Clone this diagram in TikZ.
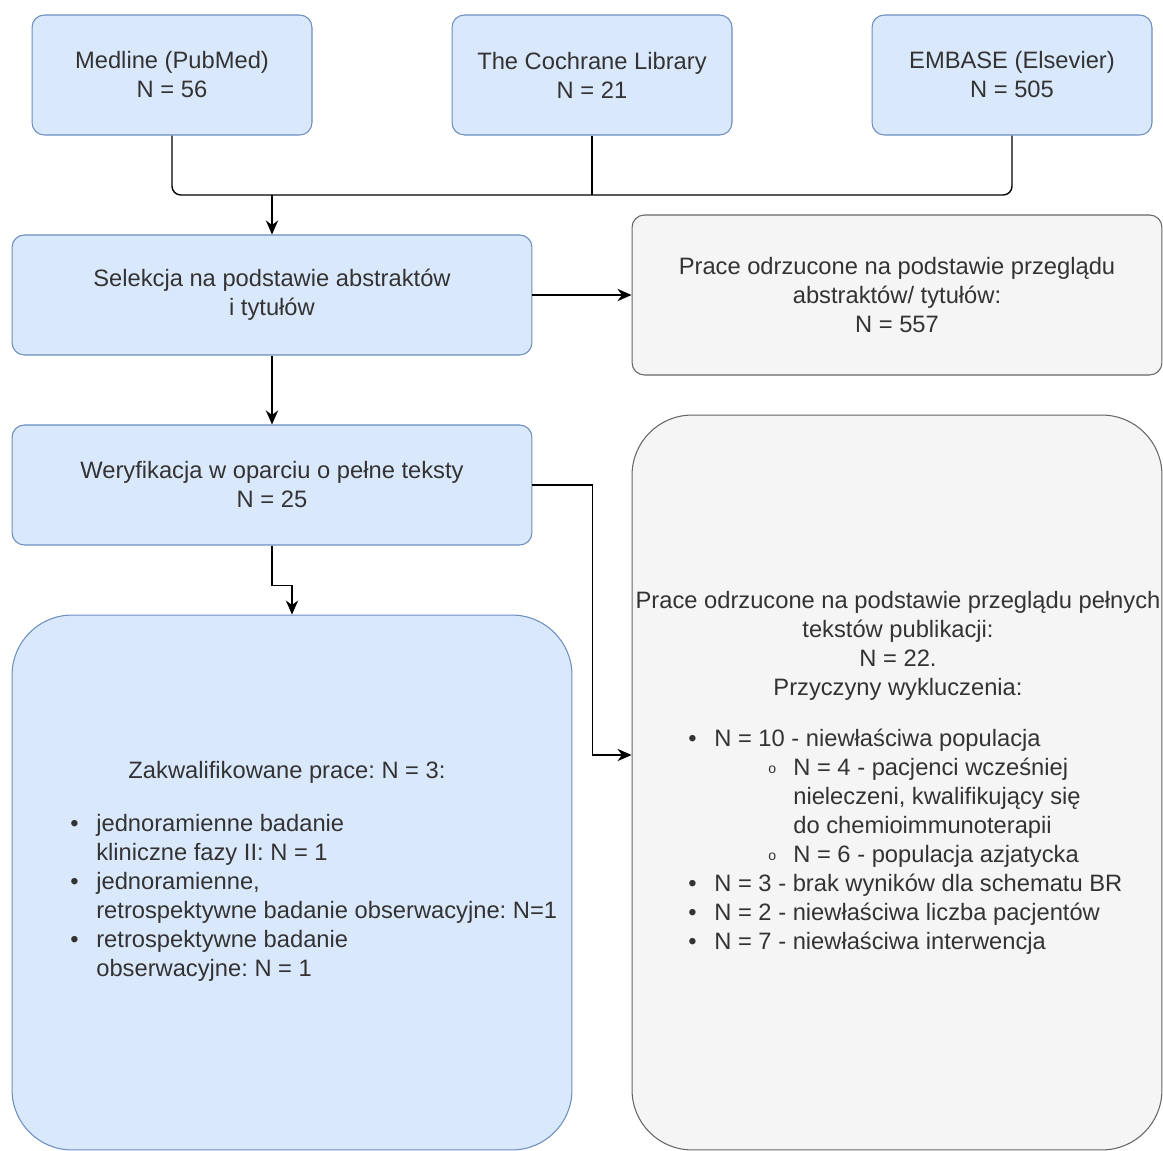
\documentclass[tikz,border=0pt]{standalone}
\usepackage{fontspec}
\setmainfont{Liberation Sans}
\usepackage{xcolor}
\usetikzlibrary{arrows.meta,positioning}
\frenchspacing

\definecolor{boxblue}{HTML}{DAE8FC}
\definecolor{edgeblue}{HTML}{6C8EBF}
\definecolor{boxgray}{HTML}{F5F5F5}
\definecolor{edgegray}{HTML}{666666}
\definecolor{txtgray}{HTML}{333333}

\newcommand{\bul}{\makebox[0.52cm][l]{\textbullet}}
\newcommand{\cont}{\hspace*{0.52cm}}
\newcommand{\subbul}{\hspace*{1.6cm}\makebox[0.5cm][l]{\raisebox{0.15ex}{\footnotesize o}}}
\newcommand{\subcont}{\hspace*{2.1cm}}

\begin{document}
\begin{tikzpicture}[x=0.02cm, y=-0.02cm,
    txt/.style={font=\fontsize{13.5}{16.5}\selectfont, text=txtgray, align=left, inner sep=0pt},
    bluebox/.style={rectangle, draw=edgeblue, fill=boxblue, rounded corners=7pt, line width=0.6pt,
        minimum width=5.6cm, minimum height=2.4cm, align=center, text=txtgray,
        font=\fontsize{13.5}{16.5}\selectfont},
    graybox/.style={bluebox, draw=edgegray, fill=boxgray},
    conn/.style={line width=0.8pt, black},
    arrow/.style={conn, -{Stealth[length=8pt, width=7pt]}}
]
    \useasboundingbox (0,0) rectangle (1163,1151);

    % databases
    \node[bluebox] (medline) at (172,75) {Medline (PubMed)\\N = 56};
    \node[bluebox] (cochrane) at (592,75) {The Cochrane Library\\N = 21};
    \node[bluebox] (embase) at (1012,75) {EMBASE (Elsevier)\\N = 505};

    % screening
    \node[bluebox, minimum width=10.4cm] (selekcja) at (272,295) {Selekcja na podstawie abstraktów\\i tytułów};
    \node[graybox, minimum width=10.6cm, minimum height=3.2cm] (odrz1) at (897,295)
        {Prace odrzucone na podstawie przeglądu\\abstraktów/ tytułów:\\N = 557};
    \node[bluebox, minimum width=10.4cm] (weryf) at (272,485) {Weryfikacja w oparciu o pełne teksty\\N = 25};

    % results
    \node[bluebox, rounded corners=1.2cm, minimum width=11.2cm, minimum height=10.7cm] (zakw) at (292,882.5) {};
    \node[txt] (zakwhead) at (287,772) {Zakwalifikowane prace: N = 3:};
    \node[txt, anchor=west] (zakwlist) at (70,898) {\bul jednoramienne badanie\\
        \cont kliniczne fazy II: N = 1\\
        \bul jednoramienne,\\
        \cont retrospektywne badanie obserwacyjne: N=1\\
        \bul retrospektywne badanie\\
        \cont obserwacyjne: N = 1};

    \node[graybox, rounded corners=1.2cm, minimum width=10.6cm, minimum height=14.7cm] (odrz2) at (897,782.5) {};
    \node[txt, align=center] (odrz2head) at (898,646) {Prace odrzucone na podstawie przeglądu pełnych\\
        tekstów publikacji:\\N = 22.\\Przyczyny wykluczenia:};
    \node[txt, anchor=west] (odrz2list) at (688,842) {\bul N = 10 - niewłaściwa populacja\\
        \subbul N = 4 - pacjenci wcześniej\\
        \subcont nieleczeni, kwalifikujący się\\
        \subcont do chemioimmunoterapii\\
        \subbul N = 6 - populacja azjatycka\\
        \bul N = 3 - brak wyników dla schematu BR\\
        \bul N = 2 - niewłaściwa liczba pacjentów\\
        \bul N = 7 - niewłaściwa interwencja};

    % connectors
    \coordinate (jn) at (272,195);
    \draw[conn, rounded corners=5pt] (medline.south) |- (jn) -| (embase.south);
    \draw[conn] (cochrane.south) -- (cochrane.south |- jn);
    \draw[arrow] (jn) -- (selekcja.north);
    \draw[arrow] (selekcja.east) -- (odrz1.west);
    \draw[arrow] (selekcja.south) -- (weryf.north);
    \draw[arrow] (weryf.south) -- ++(0,40) -| (zakw.north);
    \draw[arrow] (weryf.east) -- ++(60,0) |- ([yshift=0.55cm]odrz2.west);
\end{tikzpicture}
\end{document}
